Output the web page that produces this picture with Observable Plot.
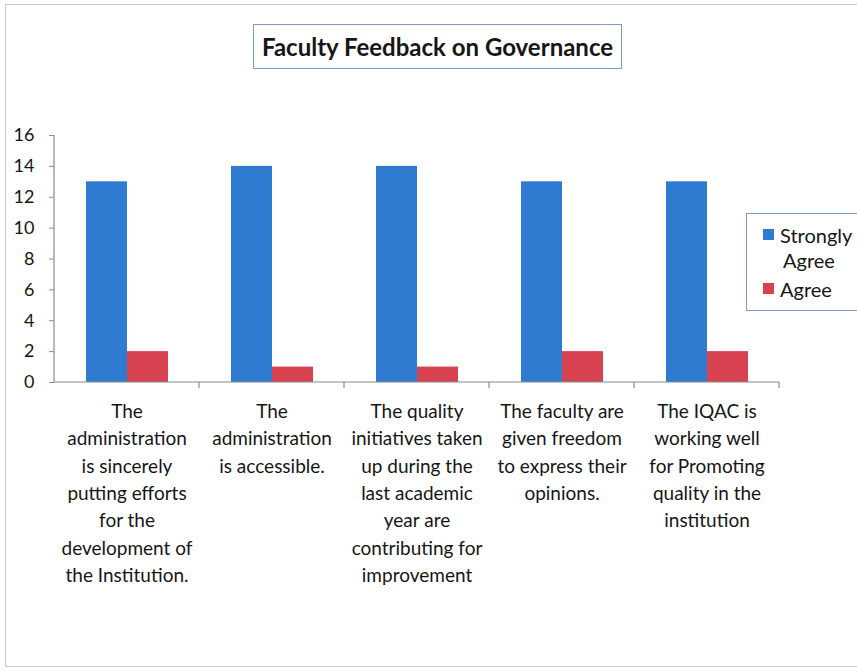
<!DOCTYPE html>
<html>
<head>
<meta charset="utf-8">
<script src="https://cdn.jsdelivr.net/npm/d3@7"></script>
<script src="https://cdn.jsdelivr.net/npm/@observablehq/plot@0.6"></script>
<style>
  html, body { margin: 0; padding: 0; background: #ffffff; }
  #wrap { position: relative; width: 857px; height: 671px; overflow: hidden; font-family: Lato, "Open Sans", sans-serif; color: #161616; }
  #frame { position: absolute; left: 5px; top: 4px; width: 860px; height: 663px; border: 1px solid #c8c8c8; box-sizing: border-box; }
  #title { position: absolute; left: 253px; top: 24px; width: 369px; height: 45px; border: 1.5px solid #7f9cc0; box-sizing: border-box;
           font-weight: 700; font-size: 24px; display: flex; align-items: center; justify-content: center; white-space: nowrap; }
  #legend { position: absolute; left: 746px; top: 213px; width: 130px; height: 98px; border: 1.5px solid #7f9cc0; box-sizing: border-box; font-size: 20px; line-height: 25px; }
  .item { position: absolute; left: 16px; }
  .sw { position: absolute; left: 0; width: 11px; height: 11px; }
  .lab { position: absolute; left: 17px; white-space: nowrap; }
  #chart { position: absolute; left: 0; top: 0; }
</style>
</head>
<body>
<div id="wrap">
  <div id="frame"></div>
  <div id="chart"></div>
  <div id="title"></div>
  <div id="legend"></div>
</div>
<script>
const chartTitle = "Faculty Feedback on Governance";
const categories = [
  "The\nadministration\nis sincerely\nputting efforts\nfor the\ndevelopment of\nthe Institution.",
  "The\nadministration\nis accessible.",
  "The quality\ninitiatives taken\nup during the\nlast academic\nyear are\ncontributing for\nimprovement",
  "The faculty are\ngiven freedom\nto express their\nopinions.",
  "The IQAC is\nworking well\nfor Promoting\nquality in the\ninstitution"
];
const series = ["Strongly Agree", "Agree"];
const legendLabels = ["Strongly\nAgree", "Agree"];
const stronglyAgree = [13, 14, 14, 13, 13];
const agree = [2, 1, 1, 2, 2];
const yTicks = [0, 2, 4, 6, 8, 10, 12, 14, 16];
const colors = ["#2f7bd2", "#d8414f"];

const data = categories.flatMap((c, i) => [
  {category: c, series: series[0], value: stronglyAgree[i]},
  {category: c, series: series[1], value: agree[i]}
]);

const axisColor = "#8a8a8a";

// Rendered once per facet (facet groups are translated so that the
// local band spans marginLeft .. marginLeft + fx.bandwidth()).
let facetCount = 0;
function axisLines(index, scales, values, dimensions) {
  const {marginLeft} = dimensions;
  const g = d3.create("svg:g").attr("stroke", axisColor).attr("stroke-width", 1.2);
  const y0 = scales.y(0);
  const y1 = scales.y(yTicks[yTicks.length - 1]);
  const bw = scales.fx && scales.fx.bandwidth ? scales.fx.bandwidth() : 0;
  if (facetCount === 0) {
    g.append("line").attr("x1", marginLeft).attr("x2", marginLeft).attr("y1", y0).attr("y2", y1);
  }
  facetCount++;
  g.append("line").attr("x1", marginLeft).attr("x2", marginLeft + bw).attr("y1", y0).attr("y2", y0);
  g.append("line").attr("x1", marginLeft + bw).attr("x2", marginLeft + bw).attr("y1", y0).attr("y2", y0 + 6);
  return g.node();
}

const plot = Plot.plot({
  width: 857,
  height: 671,
  marginLeft: 53,
  marginRight: 77,
  marginTop: 135,
  marginBottom: 289,
  style: {fontFamily: "Lato, 'Open Sans', sans-serif", background: "transparent", color: "#161616"},
  fx: {domain: categories, padding: 0, axis: null, label: null},
  x: {domain: series, paddingInner: 0, paddingOuter: 0.75, axis: null},
  y: {domain: [0, 16], axis: null},
  color: {domain: series, range: colors},
  marks: [
    Plot.barY(data, {fx: "category", x: "series", y: "value", fill: "series"}),
    Plot.axisY({ticks: yTicks, tickSize: 5, tickPadding: 15, fontSize: 18, label: null, stroke: axisColor, fill: "#161616"}),
    Plot.axisFx({anchor: "bottom", tickSize: 0, tickPadding: 16, fontSize: 19, lineHeight: 1.44, label: null, fill: "#161616"}),
    axisLines
  ]
});
document.getElementById("chart").appendChild(plot);

document.getElementById("title").textContent = chartTitle;

const legend = document.getElementById("legend");
const legendTops = [9, 63];
series.forEach((s, i) => {
  const item = document.createElement("div");
  item.className = "item";
  item.style.top = legendTops[i] + "px";
  const sw = document.createElement("div");
  sw.className = "sw";
  sw.style.background = colors[i];
  sw.style.top = "6px";
  const lab = document.createElement("div");
  lab.className = "lab";
  lab.innerHTML = legendLabels[i].split("\n").map((t, j) => `<div style="padding-left:${j ? 3 : 0}px">${t}</div>`).join("");
  item.appendChild(sw);
  item.appendChild(lab);
  legend.appendChild(item);
});
</script>
</body>
</html>
